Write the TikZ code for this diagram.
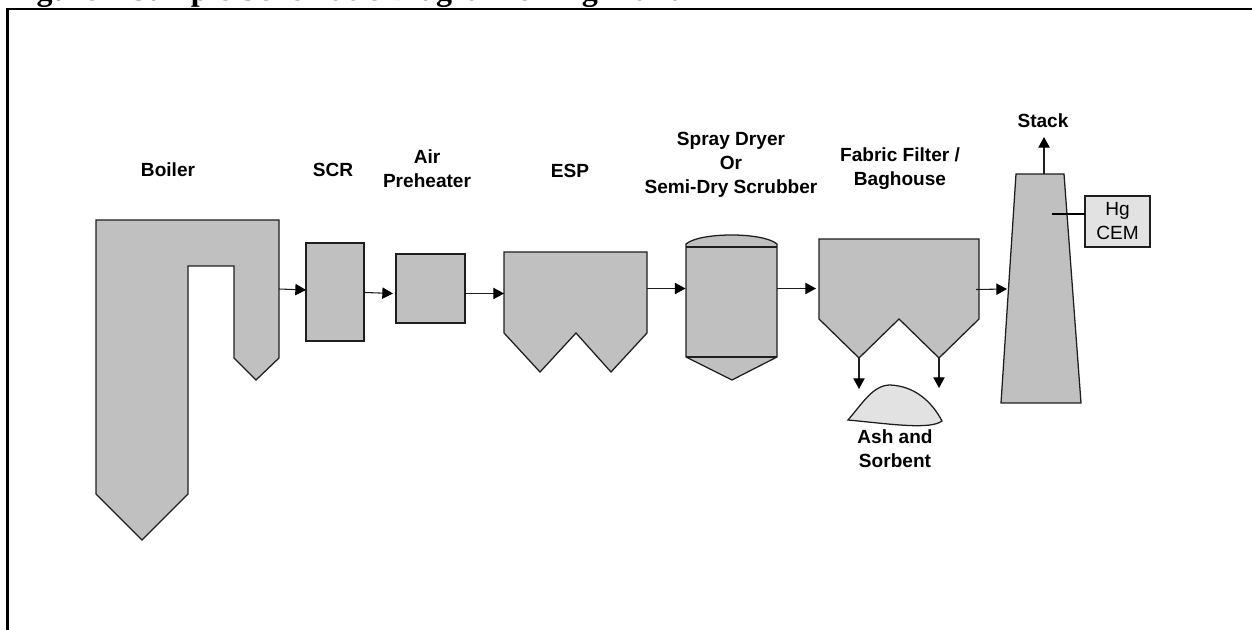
\documentclass[tikz,border=0pt]{standalone}
\usepackage{fontspec}
\setmainfont{Liberation Sans}
\newfontfamily\titlefont{Liberation Serif}
\usetikzlibrary{arrows.meta}
\definecolor{unitgrey}{HTML}{C0C0C0}
\definecolor{lightgrey}{HTML}{E2E2E2}
\definecolor{inkgrey}{HTML}{1E1E1E}
\tikzset{
  x=0.75pt,y=-0.75pt,
  unit/.style={draw=inkgrey,fill=unitgrey,line width=0.95pt,line join=miter},
  lightunit/.style={draw=inkgrey,fill=lightgrey,line width=0.95pt},
  flow/.style={draw=inkgrey,line width=0.8pt,-{Triangle[length=8pt,width=8.5pt,color=black]}},
  tag/.style={font=\fontsize{14.3}{18}\selectfont\bfseries,align=center,inner sep=0pt,text=black}
}
\begin{document}
\begin{tikzpicture}
\useasboundingbox (0,0) rectangle (1252,630);
% title (cut by the top of the page, as in the reference)
\node[font=\titlefont\fontsize{24}{26}\selectfont\bfseries,anchor=base west,inner sep=0pt] (title) at (8,0.7) {Figure 1 Sample Schematic Diagram of Mg Plant};
% frame
\draw[black,line width=1.65pt] (7.5,630) -- (7.5,9.3) -- (1252,9.3);
% boiler
\draw[unit] (96,220) -- (279,220) -- (279,358) -- (256,380) -- (234,358) -- (234,266) -- (188,266) -- (188,494) -- (142,540) -- (96,494) -- cycle;
% SCR, air preheater
\node[unit,inner sep=0pt,minimum width=43.5pt,minimum height=73.5pt] (scr) at (335,292) {};
\node[unit,inner sep=0pt,minimum width=51.75pt,minimum height=51.75pt] (aph) at (430.5,288.5) {};
% ESP
\draw[unit] (504,252) -- (647,252) -- (647,333) -- (611,372) -- (576,333) -- (540,372) -- (504,333) -- cycle;
% spray dryer
\draw[unit] (686,244) .. controls (700,232) and (763,232) .. (777,244) -- (777,357) -- (732,380) -- (686,357) -- cycle;
\draw[unit,fill=none] (686,247) -- (777,247);
\draw[unit,fill=none] (686,357) -- (777,357);
% fabric filter
\draw[unit] (819,239) -- (979,239) -- (979,319) -- (939,358) -- (899,319) -- (859,358) -- (819,319) -- cycle;
% ash pile
\draw[lightunit] (848,420) .. controls (862,404) and (873,385) .. (890,385) .. controls (915,386) and (932,402) .. (942,421) .. controls (930,430) and (890,424) .. (848,420) -- cycle;
% stack
\draw[unit] (1016,174) -- (1064,174) -- (1081,403) -- (1001,403) -- cycle;
% Hg CEM
\node[lightunit,inner sep=0pt,minimum width=48.75pt,minimum height=38.25pt,font=\fontsize{14.3}{18}\selectfont,align=center] (cem) at (1117.5,221.5) {Hg\\CEM};
% connector ends
\coordinate (boilerout) at (279,289);
\coordinate (scrin) at (306,290);
\coordinate (scrout) at (365,292.5);
\coordinate (aphin) at (393,293.5);
\coordinate (aphout) at (465,293.5);
\coordinate (espin) at (504,293.5);
\coordinate (espout) at (647,288.5);
\coordinate (dryerin) at (685.5,288.5);
\coordinate (dryerout) at (777,288.5);
\coordinate (ffin) at (816,288.5);
\coordinate (ffout) at (976,289.5);
\coordinate (stackin) at (1007,289);
\coordinate (hopperA) at (859,358);
\coordinate (ashA) at (859,389);
\coordinate (hopperB) at (939,358);
\coordinate (ashB) at (939,388);
\coordinate (stacktop) at (1044,174);
\coordinate (stackout) at (1044,137);
\coordinate (probe) at (1052,214);
\coordinate (cemin) at (1085,214);
\draw[flow] (boilerout) -- (scrin);
\draw[flow] (scrout) -- (aphin);
\draw[flow] (aphout) -- (espin);
\draw[flow] (espout) -- (dryerin);
\draw[flow] (dryerout) -- (ffin);
\draw[flow] (ffout) -- (stackin);
\draw[flow] (hopperA) -- (ashA);
\draw[flow] (hopperB) -- (ashB);
\draw[flow] (stacktop) -- (stackout);
\draw[draw=black,line width=0.95pt] (probe) -- (cemin);
% labels
\node[tag] (lboiler) at (168,170) {Boiler};
\node[tag] (lscr) at (333,170) {SCR};
\node[tag] (lair) at (427,169) {Air\\Preheater};
\node[tag] (lesp) at (570,170.5) {ESP};
\node[tag] (lspray) at (731,165) {Spray Dryer\\Or\\Semi-Dry Scrubber};
\node[tag] (lfabric) at (900,169) {Fabric Filter /\\Baghouse};
\node[tag] (lstack) at (1043,120.5) {Stack};
\node[tag] (lash) at (895,449) {Ash and\\Sorbent};
\end{tikzpicture}
\end{document}
